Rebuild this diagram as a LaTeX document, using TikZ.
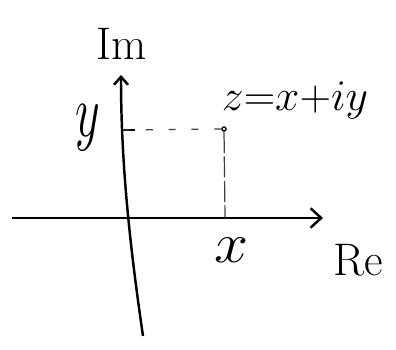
\documentclass[tikz,border=0pt]{standalone}
\usepackage{graphicx}
\usetikzlibrary{arrows.meta}

\tikzset{
  axisline/.style={line width=1.4, -{Straight Barb[length=6pt,width=11pt]}},
  guide/.style={line width=0.7, black!75, dash pattern=on 4pt off 9pt},
  lbl/.style={inner sep=0pt, font=\fontsize{26}{28}\selectfont},
}

\begin{document}
\begin{tikzpicture}[x=0.02cm,y=-0.02cm]
  \useasboundingbox (0,0) rectangle (396,350);

  % the two axes
  \coordinate (reL) at (12,218);
  \coordinate (reR) at (323,218);
  \coordinate (imB) at (143,336);
  \coordinate (imT) at (121,75);
  \draw[axisline] (reL) -- (reR);
  \draw[line width=1.4, -{Straight Barb[length=4.5pt,width=8pt]}]
    (imB) .. controls (129,240) and (121,160) .. (imT);

  % the point and its projections
  \node[circle, draw, line width=0.8, inner sep=0pt, minimum size=0.08cm] (pt) at (224,129) {};
  \coordinate (yTick) at (123,130);
  \coordinate (xTick) at (225,218);
  \draw[line width=1.2] (yTick) -- ++(12,0);
  \draw[guide] (pt) -- (yTick);
  \draw[guide, dash pattern=on 12pt off 2pt] (pt) -- (xTick);

  % labels
  \node[lbl] (imLab) at (122,44) {Im};
  \node[lbl] (reLab) at (358,260) {Re};
  \node[lbl, font=\fontsize{23}{25}\selectfont] (zLab) at (295,100) {$z{=}x{+}iy$};
  \node[lbl] (yLab) at (88,128) {\scalebox{1.1}[1.7]{$y$}};
  \node[lbl] (xLab) at (232,250) {\scalebox{1.4}[1.3]{$x$}};

\end{tikzpicture}
\end{document}
